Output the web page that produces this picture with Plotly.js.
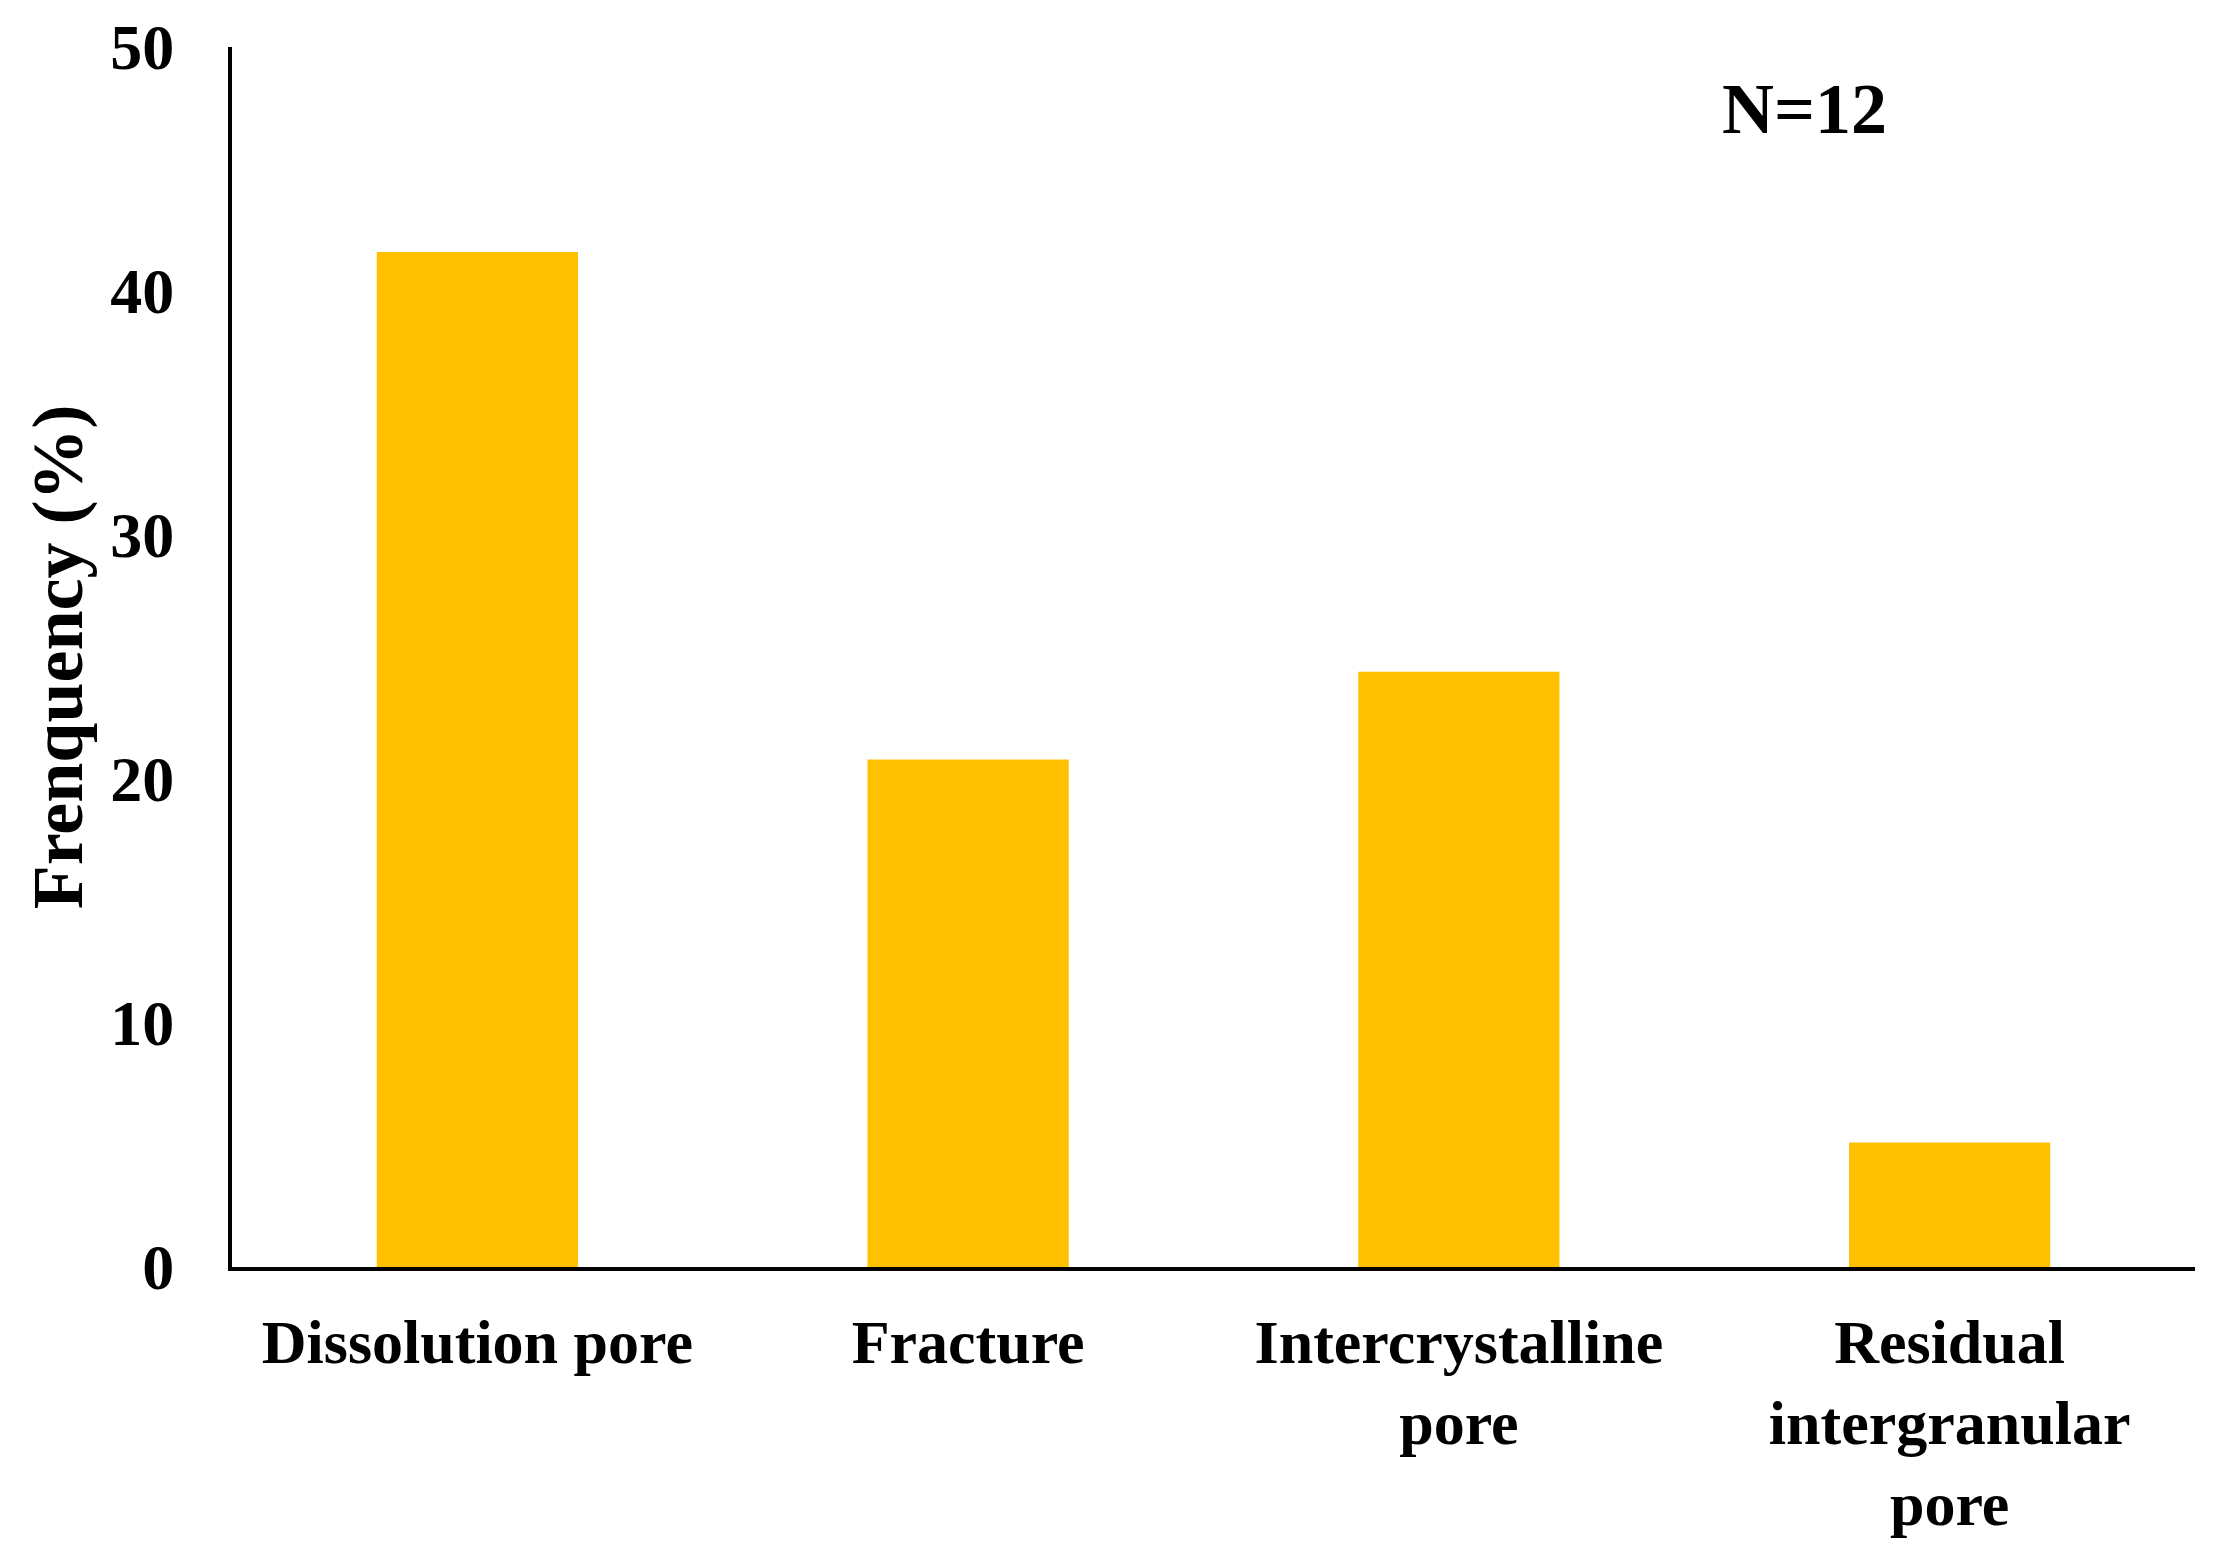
<!DOCTYPE html>
<html>
<head>
<meta charset="utf-8">
<script src="https://cdn.plot.ly/plotly-3.0.1.min.js"></script>
<style>
  html, body { margin: 0; padding: 0; background: #ffffff; }
  #chart { width: 2230px; height: 1554px; }
</style>
</head>
<body>
<div id="chart"></div>
<script>
// ---- data ----
const categories = ["Dissolution pore", "Fracture", "Intercrystalline<br>pore", "Residual<br>intergranular<br>pore"];
const frequency = [41.6, 20.8, 24.4, 5.1];
const yTickValues = [0, 10, 20, 30, 40, 50];
const yTitle = "Frenquency (%)";
const sampleNote = "N=12";

const fontFamily = "'Liberation Serif', 'Times New Roman', serif";

const trace = {
  type: "bar",
  x: categories,
  y: frequency,
  width: 0.41,
  marker: { color: "#FFC000", line: { width: 0 } },
  hoverinfo: "skip"
};

const layout = {
  width: 2230,
  height: 1554,
  paper_bgcolor: "#ffffff",
  plot_bgcolor: "#ffffff",
  showlegend: false,
  margin: { l: 232, r: 35, t: 47, b: 287, pad: 0 },
  font: { family: fontFamily, color: "#000000", weight: "bold" },
  xaxis: {
    type: "category",
    range: [-0.5, 3.5],
    showgrid: false,
    zeroline: false,
    showline: true,
    linecolor: "#000000",
    linewidth: 4,
    ticks: "",
    ticklabelstandoff: 18,
    tickfont: { family: fontFamily, size: 62, color: "#000000", weight: "bold" },
    fixedrange: true
  },
  yaxis: {
    range: [0, 50],
    tickvals: yTickValues,
    showgrid: false,
    zeroline: false,
    showline: true,
    linecolor: "#000000",
    linewidth: 4,
    ticks: "",
    ticklabelstandoff: 41,
    tickfont: { family: fontFamily, size: 64, color: "#000000", weight: "bold" },
    automargin: false,
    fixedrange: true
  },
  annotations: [
    {
      text: yTitle,
      xref: "paper", yref: "paper",
      x: -0.0885, y: 0.5,
      xanchor: "center", yanchor: "middle",
      textangle: -90,
      showarrow: false,
      font: { family: fontFamily, size: 72, color: "#000000", weight: "bold" }
    },
    {
      text: sampleNote,
      xref: "paper", yref: "paper",
      x: 0.801, y: 0.949,
      xanchor: "center", yanchor: "middle",
      showarrow: false,
      font: { family: fontFamily, size: 72, color: "#000000", weight: "bold" }
    }
  ]
};

Plotly.newPlot("chart", [trace], layout, { displayModeBar: false, staticPlot: true });
</script>
</body>
</html>
